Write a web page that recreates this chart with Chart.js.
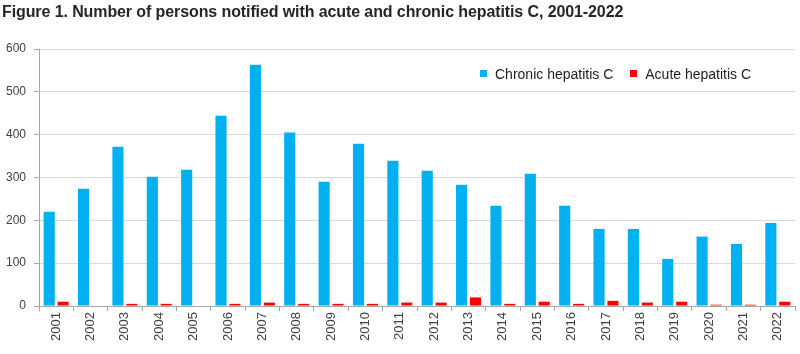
<!DOCTYPE html>
<html>
<head>
<meta charset="utf-8">
<script src="https://cdn.jsdelivr.net/npm/chart.js@4/dist/chart.umd.min.js"></script>
<style>
  body { margin: 0; background: #fff; }
  #wrap { position: relative; width: 800px; height: 354px; }
  #title { position: absolute; left: 2px; top: 3px; font: bold 16px "Liberation Sans", Arial, sans-serif; color: #262626; white-space: nowrap; letter-spacing: -0.1px; }
  #legend { position: absolute; left: 480px; top: 66px; font: 14px "Liberation Sans", Arial, sans-serif; color: #222; white-space: nowrap; }
  #legend span.box { display: inline-block; width: 7px; height: 7px; margin-right: 8px; vertical-align: 2px; }
  #legend span.item { margin-right: 17px; }
  canvas { position: absolute; left: 0; top: 0; }
</style>
</head>
<body>
<div id="wrap">
  <canvas id="chart" width="800" height="354"></canvas>
  <div id="title">Figure 1. Number of persons notified with acute and chronic hepatitis C, 2001-2022</div>
  <div id="legend"></div>
</div>
<script>
const years = ["2001","2002","2003","2004","2005","2006","2007","2008","2009","2010","2011",
               "2012","2013","2014","2015","2016","2017","2018","2019","2020","2021","2022"];
const chronic = [220, 274, 372, 302, 318, 444, 563, 405, 290, 379, 339,
                 316, 283, 234, 309, 234, 180, 180, 110, 162, 145, 194];
const acute = [10, 0, 5, 5, 0, 5, 8, 5, 5, 5, 8,
               8, 20, 5, 10, 5, 12, 8, 10, 3, 3, 10];
const seriesNames = ["Chronic hepatitis C", "Acute hepatitis C"];
const seriesColors = ["#00B0F0", "#FF0000"];

// html legend, sits inside the plot area like the original
let legend = document.getElementById('legend');
legend.innerHTML = seriesNames.map((n, i) =>
    `<span class="item"><span class="box" style="background:${seriesColors[i]}"></span>${n}</span>`).join("");

const yFont = { family: "'Liberation Sans', Arial, sans-serif", size: 12 };
const xFont = { family: "'Liberation Sans', Arial, sans-serif", size: 13 };

const hepChart = new Chart("chart", {
    type: 'bar',
    data: {
        labels: years,
        datasets: [{
            label: seriesNames[0],
            data: chronic,
            backgroundColor: seriesColors[0],
            categoryPercentage: 0.81,
            barPercentage: 0.8
        }, {
            label: seriesNames[1],
            data: acute,
            backgroundColor: seriesColors[1],
            categoryPercentage: 0.81,
            barPercentage: 0.8
        }]
    },
    options: {
        responsive: false,
        animation: false,
        layout: { padding: { left: 0, right: 5, top: 49, bottom: 0 } },
        plugins: {
            legend: { display: false },
            tooltip: { enabled: false }
        },
        scales: {
            x: {
                grid: {
                    drawOnChartArea: false,
                    tickLength: 5,
                    color: '#a6a6a6'
                },
                border: { color: '#a6a6a6' },
                ticks: {
                    font: xFont,
                    color: '#404040',
                    minRotation: 90,
                    maxRotation: 90,
                    padding: 1
                },
                afterFit: (scale) => { scale.height = 48; }
            },
            y: {
                min: 0,
                max: 600,
                grid: {
                    color: '#d9d9d9',
                    tickColor: '#a6a6a6',
                    tickLength: 5
                },
                border: { color: '#a6a6a6' },
                ticks: {
                    stepSize: 100,
                    font: yFont,
                    color: '#404040',
                    padding: 8
                },
                afterFit: (scale) => { scale.width = 39; }
            }
        }
    }
});
</script>
</body>
</html>
